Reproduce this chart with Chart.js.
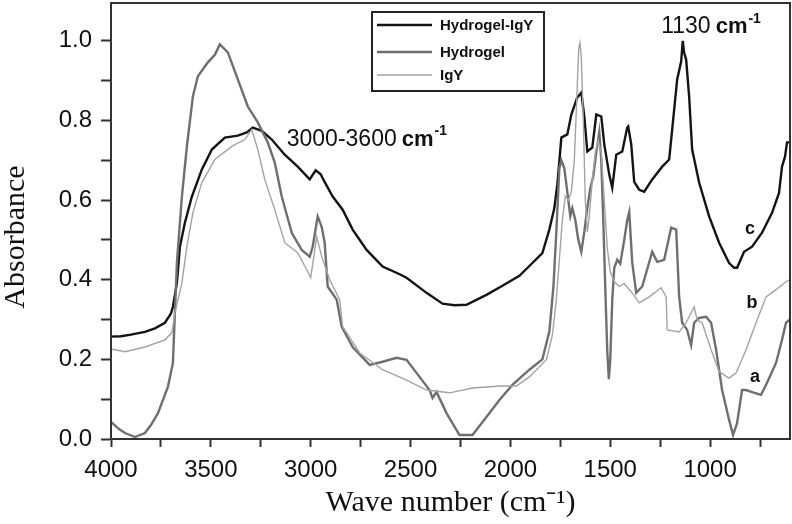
<!DOCTYPE html>
<html>
<head>
<meta charset="utf-8">
<script src="https://cdn.jsdelivr.net/npm/chart.js@4.4.1/dist/chart.umd.min.js"></script>
<style>
  html, body { margin: 0; padding: 0; background: #fff; }
  #wrap { width: 792px; height: 524px; position: relative; }
</style>
</head>
<body>
<div id="wrap"><canvas id="ftir"></canvas></div>
<script>
// FTIR spectra, wavenumber (cm-1) and absorbance
const hydrogelIgyWave = [4000, 3950, 3900, 3830, 3780, 3730, 3700, 3690, 3670, 3655, 3630, 3595, 3545, 3495, 3430, 3365, 3320, 3290, 3245, 3195, 3130, 3065, 3005, 2975, 2950, 2935, 2890, 2840, 2790, 2720, 2640, 2560, 2520, 2420, 2340, 2280, 2220, 2120, 2040, 1955, 1890, 1840, 1805, 1780, 1765, 1755, 1745, 1715, 1695, 1665, 1645, 1630, 1615, 1590, 1570, 1545, 1530, 1505, 1490, 1470, 1440, 1415, 1410, 1395, 1380, 1355, 1330, 1290, 1240, 1205, 1190, 1165, 1145, 1137, 1130, 1120, 1105, 1090, 1055, 1005, 955, 905, 880, 865, 830, 790, 740, 690, 655, 640, 625, 615, 605, 600];
const hydrogelIgyAbs = [0.257, 0.258, 0.262, 0.269, 0.278, 0.292, 0.315, 0.332, 0.392, 0.483, 0.543, 0.609, 0.677, 0.727, 0.757, 0.762, 0.770, 0.782, 0.774, 0.752, 0.714, 0.684, 0.652, 0.675, 0.665, 0.650, 0.609, 0.576, 0.526, 0.475, 0.433, 0.415, 0.405, 0.367, 0.340, 0.336, 0.337, 0.362, 0.385, 0.410, 0.442, 0.467, 0.526, 0.580, 0.640, 0.697, 0.757, 0.765, 0.815, 0.858, 0.870, 0.810, 0.722, 0.732, 0.815, 0.810, 0.740, 0.664, 0.631, 0.714, 0.722, 0.782, 0.785, 0.740, 0.646, 0.626, 0.621, 0.652, 0.684, 0.702, 0.777, 0.903, 0.948, 1.000, 0.970, 0.953, 0.860, 0.727, 0.644, 0.559, 0.493, 0.442, 0.430, 0.430, 0.470, 0.483, 0.518, 0.568, 0.618, 0.684, 0.709, 0.745, 0.745, 0.745];

const hydrogelWave = [4000, 3960, 3930, 3880, 3830, 3800, 3765, 3715, 3690, 3680, 3670, 3645, 3620, 3590, 3565, 3515, 3480, 3455, 3415, 3365, 3315, 3265, 3215, 3180, 3145, 3095, 3045, 3005, 2990, 2965, 2945, 2930, 2915, 2870, 2845, 2790, 2705, 2640, 2570, 2520, 2455, 2405, 2390, 2370, 2320, 2255, 2190, 2120, 2055, 1990, 1905, 1840, 1805, 1785, 1770, 1755, 1745, 1730, 1715, 1700, 1690, 1675, 1660, 1645, 1630, 1615, 1600, 1585, 1570, 1555, 1545, 1535, 1525, 1515, 1507, 1500, 1490, 1480, 1465, 1450, 1430, 1415, 1405, 1390, 1370, 1340, 1290, 1265, 1230, 1195, 1170, 1155, 1140, 1115, 1095, 1080, 1055, 1020, 995, 970, 940, 905, 885, 865, 840, 820, 790, 745, 715, 670, 640, 620, 600];
const hydrogelAbs = [0.043, 0.025, 0.015, 0.005, 0.015, 0.035, 0.065, 0.131, 0.191, 0.317, 0.443, 0.609, 0.735, 0.860, 0.911, 0.946, 0.965, 0.991, 0.971, 0.903, 0.835, 0.795, 0.745, 0.694, 0.609, 0.518, 0.475, 0.458, 0.483, 0.559, 0.533, 0.493, 0.383, 0.350, 0.282, 0.231, 0.186, 0.194, 0.204, 0.199, 0.156, 0.123, 0.103, 0.118, 0.065, 0.010, 0.010, 0.055, 0.098, 0.136, 0.174, 0.200, 0.270, 0.380, 0.520, 0.680, 0.700, 0.680, 0.620, 0.560, 0.580, 0.550, 0.500, 0.470, 0.520, 0.580, 0.630, 0.660, 0.720, 0.770, 0.700, 0.550, 0.380, 0.220, 0.150, 0.200, 0.350, 0.430, 0.450, 0.440, 0.500, 0.550, 0.570, 0.443, 0.367, 0.383, 0.470, 0.445, 0.450, 0.531, 0.526, 0.357, 0.292, 0.274, 0.236, 0.292, 0.304, 0.307, 0.292, 0.224, 0.123, 0.048, 0.010, 0.040, 0.123, 0.123, 0.118, 0.111, 0.141, 0.191, 0.249, 0.292, 0.300];

const igyWave = [4000, 3930, 3830, 3730, 3695, 3680, 3645, 3620, 3590, 3545, 3480, 3395, 3330, 3295, 3265, 3230, 3180, 3130, 3065, 3020, 3000, 2970, 2945, 2905, 2855, 2840, 2755, 2640, 2520, 2420, 2305, 2190, 2050, 1970, 1905, 1820, 1790, 1770, 1755, 1740, 1725, 1710, 1695, 1680, 1668, 1658, 1652, 1645, 1635, 1625, 1615, 1605, 1590, 1575, 1560, 1545, 1530, 1515, 1500, 1480, 1455, 1430, 1390, 1355, 1305, 1245, 1220, 1215, 1155, 1120, 1105, 1080, 1065, 1040, 995, 955, 905, 870, 820, 770, 720, 670, 620, 600];
const igyAbs = [0.226, 0.219, 0.231, 0.249, 0.267, 0.317, 0.392, 0.483, 0.568, 0.644, 0.702, 0.735, 0.752, 0.777, 0.727, 0.652, 0.576, 0.493, 0.468, 0.425, 0.405, 0.508, 0.458, 0.400, 0.350, 0.282, 0.216, 0.174, 0.148, 0.123, 0.116, 0.128, 0.133, 0.133, 0.156, 0.199, 0.260, 0.350, 0.450, 0.550, 0.610, 0.600, 0.620, 0.700, 0.850, 0.980, 0.995, 0.960, 0.800, 0.600, 0.520, 0.560, 0.650, 0.720, 0.750, 0.720, 0.600, 0.480, 0.420, 0.395, 0.383, 0.390, 0.367, 0.342, 0.357, 0.380, 0.357, 0.274, 0.269, 0.292, 0.307, 0.332, 0.299, 0.292, 0.224, 0.169, 0.153, 0.166, 0.224, 0.292, 0.357, 0.375, 0.395, 0.400];

const seriesLabels = ["Hydrogel-IgY", "Hydrogel", "IgY"];
const seriesColors = ["#141414", "#6f6f6f", "#a3a3a3"];
const seriesWidths = [2.4, 2.4, 1.4];

const zip = (xs, ys) => xs.map((x, i) => ({ x: x, y: ys[i] }));

const sansFont = "'Liberation Sans', Arial, sans-serif";
const serifFont = "'Liberation Serif', 'Times New Roman', serif";

// text with a bold "cm" and a raised "-1"
function drawUnitText(ctx, x, y, num, size) {
  ctx.textBaseline = "alphabetic";
  ctx.textAlign = "left";
  ctx.fillStyle = "#111";
  ctx.font = size + "px " + sansFont;
  ctx.fillText(num, x, y);
  x += ctx.measureText(num).width + 5;
  ctx.font = "bold " + (size - 1) + "px " + sansFont;
  ctx.fillText("cm", x, y);
  x += ctx.measureText("cm").width + 1;
  ctx.font = "bold " + Math.round(size * 0.62) + "px " + sansFont;
  ctx.fillText("-1", x, y - size * 0.45);
}

const decorations = {
  id: "decorations",
  afterDatasetsDraw(chart) {
    const { ctx, chartArea, scales } = chart;
    const xs = scales.x, ys = scales.y;
    ctx.save();

    // frame round the plot
    ctx.strokeStyle = "#333";
    ctx.lineWidth = 2;
    ctx.strokeRect(chartArea.left, chartArea.top, chartArea.right - chartArea.left, chartArea.bottom - chartArea.top);

    // y axis title, set a little below the middle as in the figure
    ctx.save();
    ctx.translate(24, 237);
    ctx.rotate(-Math.PI / 2);
    ctx.font = "30px " + serifFont;
    ctx.fillStyle = "#111";
    ctx.textAlign = "center";
    ctx.textBaseline = "alphabetic";
    ctx.fillText("Absorbance", 0, 0);
    ctx.restore();

    // legend box
    const bx = chartArea.left + 261, by = chartArea.top + 9, bw = 172, bh = 79;
    ctx.fillStyle = "#fff";
    ctx.fillRect(bx, by, bw, bh);
    ctx.strokeStyle = "#222";
    ctx.lineWidth = 2;
    ctx.strokeRect(bx, by, bw, bh);
    const rows = [13, 40, 63];
    chart.data.datasets.forEach((ds, i) => {
      const ry = by + rows[i];
      ctx.strokeStyle = ds.borderColor;
      ctx.lineWidth = ds.borderWidth;
      ctx.beginPath();
      ctx.moveTo(bx + 5, ry);
      ctx.lineTo(bx + 60, ry);
      ctx.stroke();
      ctx.fillStyle = "#111";
      ctx.font = "bold 15px " + sansFont;
      ctx.textBaseline = "middle";
      ctx.textAlign = "left";
      ctx.fillText(ds.label, bx + 68, ry + 1);
    });

    // peak annotations
    drawUnitText(ctx, xs.getPixelForValue(3120), ys.getPixelForValue(0.737), "3000-3600", 23);
    drawUnitText(ctx, xs.getPixelForValue(1245), ys.getPixelForValue(1.019), "1130", 23);

    // curve letters
    ctx.font = "bold 18px " + sansFont;
    ctx.textAlign = "center";
    ctx.textBaseline = "middle";
    ctx.fillStyle = "#111";
    ctx.fillText("c", xs.getPixelForValue(800), ys.getPixelForValue(0.528));
    ctx.fillText("b", xs.getPixelForValue(790), ys.getPixelForValue(0.342));
    ctx.fillText("a", xs.getPixelForValue(775), ys.getPixelForValue(0.156));
    ctx.restore();
  }
};

new Chart(document.getElementById("ftir"), {
  type: "line",
  data: {
    datasets: [
      { label: seriesLabels[0], data: zip(hydrogelIgyWave, hydrogelIgyAbs) },
      { label: seriesLabels[1], data: zip(hydrogelWave, hydrogelAbs) },
      { label: seriesLabels[2], data: zip(igyWave, igyAbs) },
    ].map((ds, i) => Object.assign(ds, {
      borderColor: seriesColors[i],
      borderWidth: seriesWidths[i],
      pointRadius: 0,
      tension: 0,
      fill: false,
      order: 2 - i,
    })),
  },
  options: {
    responsive: true,
    maintainAspectRatio: false,
    animation: false,
    devicePixelRatio: 1,
    layout: { padding: { left: 0, top: 3, right: 2, bottom: 0 } },
    plugins: {
      legend: { display: false },
      tooltip: { enabled: false },
    },
    scales: {
      x: {
        type: "linear",
        reverse: true,
        min: 600,
        max: 4000,
        afterFit: (s) => { s.height = 85; s.paddingLeft = 0; s.paddingRight = 0; },
        afterBuildTicks: (s) => { s.ticks = s.ticks.filter((t) => t.value >= 600 && t.value <= 4000); },
        ticks: {
          stepSize: 250,
          includeBounds: false,
          autoSkip: false,
          maxRotation: 0,
          padding: 9,
          color: "#111",
          font: { family: sansFont, size: 24 },
          callback: (v) => (v % 500 === 0 ? String(v) : ""),
        },
        grid: { drawOnChartArea: false, drawTicks: true, tickLength: 8, tickColor: "#333", tickWidth: 2 },
        border: { color: "#333", width: 2 },
        title: {
          display: true,
          text: "Wave number (cm\u207B\u00B9)",
          color: "#111",
          font: { family: serifFont, size: 30 },
          padding: { top: 0, bottom: 3 },
        },
      },
      y: {
        min: 0,
        max: 1.095,
        afterFit: (s) => { s.width = 111; s.paddingTop = 0; s.paddingBottom = 0; },
        ticks: {
          stepSize: 0.1,
          includeBounds: false,
          autoSkip: false,
          padding: 9,
          color: "#111",
          font: { family: sansFont, size: 24 },
          callback: (v) => (Math.round(v * 10) % 2 === 0 ? v.toFixed(1) : ""),
        },
        grid: { drawOnChartArea: false, drawTicks: true, tickLength: 10, tickColor: "#333", tickWidth: 2 },
        border: { color: "#333", width: 2 },
      },
    },
  },
  plugins: [decorations],
});
</script>
</body>
</html>
